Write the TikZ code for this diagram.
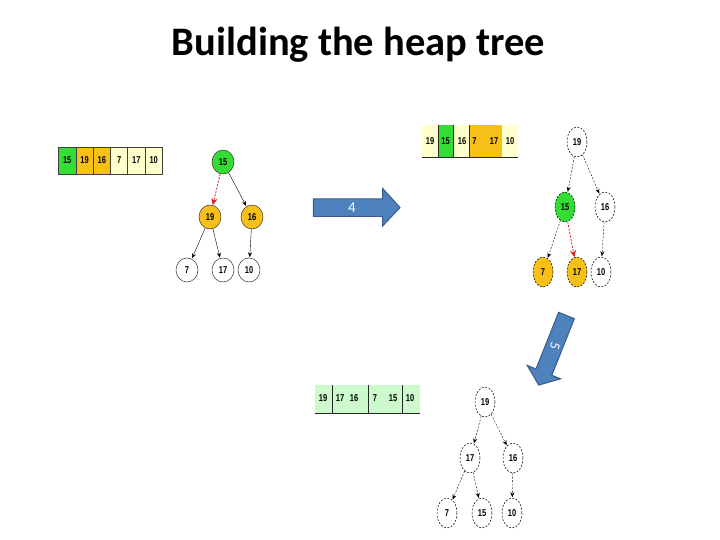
\documentclass[tikz,border=0pt]{standalone}
\usepackage{fontspec}
\setmainfont{Carlito}
\newfontfamily\nodefont[FakeStretch=0.75]{Liberation Sans}
\usetikzlibrary{shapes.geometric,arrows.meta}
\definecolor{hgreen}{RGB}{51,221,51}
\definecolor{horange}{RGB}{247,192,25}
\definecolor{hcream}{RGB}{255,255,204}
\definecolor{hlgreen}{RGB}{204,250,204}
\definecolor{hblue}{RGB}{79,129,189}
\definecolor{hblueb}{RGB}{56,93,138}
\definecolor{hred}{RGB}{220,30,30}
\tikzset{
  nf/.style={font=\nodefont\bfseries\fontsize{10}{11}\selectfont},
  hn/.style={ellipse, draw=black!80, line width=0.5pt, minimum width=22, minimum height=24, inner sep=0, nf},
  hd/.style={ellipse, draw=black, dashed, dash pattern=on 2pt off 1.5pt, line width=0.5pt, minimum width=20, minimum height=30, inner sep=0, nf},
  cell/.style={rectangle, draw=black!75, line width=0.6pt, minimum width=17.3, minimum height=27, inner sep=0, nf},
  ct/.style={inner sep=0, nf},
  ed/.style={-{Stealth[length=5,width=4]}, line width=0.4pt, black, shorten >=0.5pt},
  edd/.style={ed, dash pattern=on 2pt off 1.5pt},
  edr/.style={-{Stealth[length=7,width=6]}, line width=0.8pt, hred, dash pattern=on 2pt off 1.5pt},
  blk/.style={fill=hblue, draw=hblueb, line width=1pt, line join=miter},
}
\begin{document}
\begin{tikzpicture}[x=1pt,y=-1pt]
\useasboundingbox (0,0) rectangle (720,540);
% title
\node[anchor=base, inner sep=0, font=\bfseries\fontsize{40.5}{44}\selectfont] (title) at (358.5,56) {Building the heap tree};

% ---------- panel 1 ----------
\node[cell, fill=hgreen]  (p1a) at (67.2,160.5) {15};
\node[cell, fill=horange] (p1b) at (84.5,160.5) {19};
\node[cell, fill=horange] (p1c) at (101.8,160.5) {16};
\node[cell, fill=hcream]  (p1d) at (119.1,160.5) {7};
\node[cell, fill=hcream]  (p1e) at (136.4,160.5) {17};
\node[cell, fill=hcream]  (p1f) at (153.7,160.5) {10};

\node[hn, fill=hgreen]  (t1r)  at (223,162) {15};
\node[hn, fill=horange] (t1l)  at (210,217) {19};
\node[hn, fill=horange] (t1rr) at (252,217) {16};
\node[hn, fill=white]   (t1a)  at (187,270) {7};
\node[hn, fill=white]   (t1b)  at (223,270) {17};
\node[hn, fill=white]   (t1c)  at (249,270) {10};
\draw[edr] (t1r) -- (t1l);
\draw[ed] (t1r) -- (t1rr);
\draw[ed] (t1l) -- (t1a);
\draw[ed] (t1l) -- (t1b);
\draw[ed] (t1rr) -- (t1c);

% ---------- arrow 4 ----------
\draw[blk] (313.3,199) -- (382.7,199) -- (382.7,188.5) -- (400,207.5) -- (382.7,226) -- (382.7,216.5) -- (313.3,216.5) -- cycle;
\node[text=white, font=\fontsize{15}{16}\selectfont] (lab4) at (352,208) {4};

% ---------- panel 2 ----------
\fill[hcream] (422,125) rectangle (518,157);
\fill[hgreen] (438,125) rectangle (453,157);
\fill[horange] (469,125) rectangle (502,157);
\draw[black!85, line width=0.8pt] (422,157) -- (518,157);
\draw[black!85, line width=0.6pt] (438,125) -- (438,157) (453,125) -- (453,157) (469,125) -- (469,157);
\node[ct] (p2a) at (430,141) {19};
\node[ct] (p2b) at (445.5,141) {15};
\node[ct] (p2c) at (462,141) {16};
\node[ct] (p2d) at (474.5,141) {7};
\node[ct] (p2e) at (494,141) {17};
\node[ct] (p2f) at (510,141) {10};

\node[hd, fill=white]   (t2r)  at (577,142) {19};
\node[hd, fill=hgreen]  (t2l)  at (565,207) {15};
\node[hd, fill=white]   (t2rr) at (605,207) {16};
\node[hd, fill=horange] (t2a)  at (543,272) {7};
\node[hd, fill=horange] (t2b)  at (577,272) {17};
\node[hd, fill=white]   (t2c)  at (601,272) {10};
\draw[edd] (t2r) -- (t2l);
\draw[edd] (t2r) -- (t2rr);
\draw[edd] (t2l) -- (t2a);
\draw[edr] (t2l) -- (t2b);
\draw[edd] (t2rr) -- (t2c);

% ---------- arrow 5 ----------
\draw[blk] (574.4,318.7) -- (558.6,312.3) -- (536.0,368.9) -- (527.2,365.4) -- (538.7,385.1) -- (560.6,378.8) -- (551.8,375.3) -- cycle;
\node[text=white, rotate=-105, font=\fontsize{14}{15}\selectfont] (lab5) at (555,346) {5};

% ---------- panel 3 ----------
\fill[hlgreen] (315,385) rectangle (420,413);
\draw[black!85, line width=0.8pt] (315,413) -- (420,413);
\draw[black!85, line width=0.6pt] (332,385) -- (332,413) (368,385) -- (368,413) (402,385) -- (402,413);
\node[ct] (p3a) at (323,398) {19};
\node[ct] (p3b) at (340,398) {17};
\node[ct] (p3c) at (354,398) {16};
\node[ct] (p3d) at (375,398) {7};
\node[ct] (p3e) at (393,398) {15};
\node[ct] (p3f) at (410,398) {10};

\node[hd, fill=white] (t3r)  at (485,402) {19};
\node[hd, fill=white] (t3l)  at (470,458) {17};
\node[hd, fill=white] (t3rr) at (513,458) {16};
\node[hd, fill=white] (t3a)  at (447,513) {7};
\node[hd, fill=white] (t3b)  at (482,513) {15};
\node[hd, fill=white] (t3c)  at (512,513) {10};
\draw[edd] (t3r) -- (t3l);
\draw[edd] (t3r) -- (t3rr);
\draw[edd] (t3l) -- (t3a);
\draw[edd] (t3l) -- (t3b);
\draw[edd] (t3rr) -- (t3c);
\end{tikzpicture}
\end{document}
